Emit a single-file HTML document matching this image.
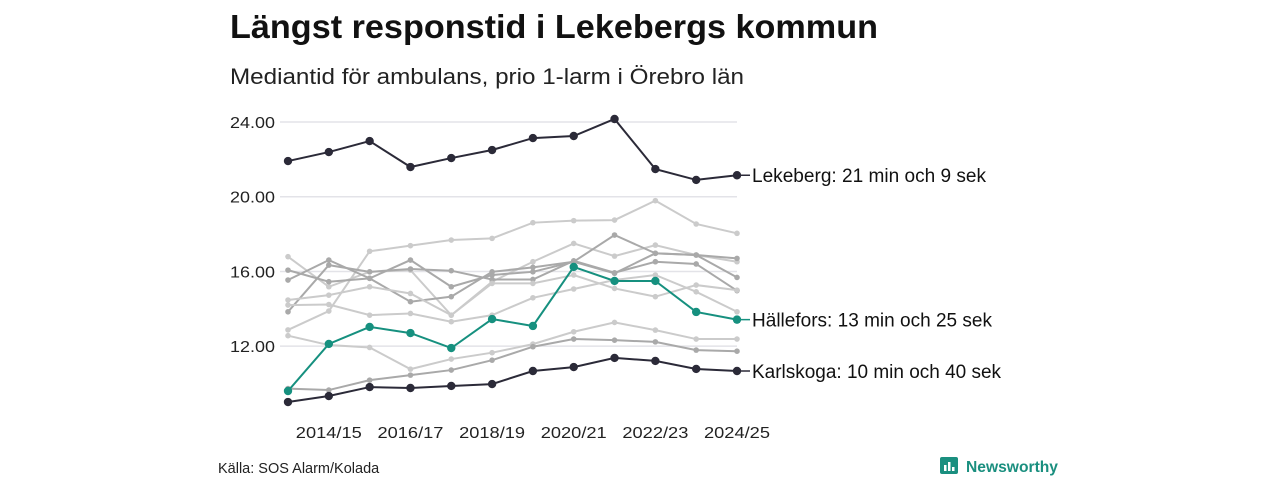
<!DOCTYPE html>
<html><head><meta charset="utf-8"><style>
body{margin:0;width:1280px;height:480px;background:#fff;font-family:"Liberation Sans",sans-serif;overflow:hidden}
</style></head><body>
<svg width="1280" height="480">
<text x="230" y="38" font-size="33" font-weight="bold" fill="#111" textLength="648" lengthAdjust="spacingAndGlyphs">Längst responstid i Lekebergs kommun</text>
<text x="230" y="84" font-size="22" fill="#222" textLength="514" lengthAdjust="spacingAndGlyphs">Mediantid för ambulans, prio 1-larm i Örebro län</text>
<g id="grid"></g><g id="gray"></g><g id="hl"></g><g id="xt"></g>
<text x="218" y="473" font-size="14.5" fill="#222">Källa: SOS Alarm/Kolada</text>
<g>
<rect x="940" y="457" width="18" height="17" rx="2" fill="#1a8f7f"/>
<rect x="944" y="465" width="2.5" height="6" fill="#fff"/><rect x="948" y="462" width="2.5" height="9" fill="#fff"/><rect x="952" y="467" width="2.5" height="4" fill="#fff"/>
<text x="966" y="472" font-size="16" font-weight="bold" fill="#1a8f7f" textLength="92" lengthAdjust="spacingAndGlyphs">Newsworthy</text></g>
</svg>
<script>
const categories=["2013/14","2014/15","2015/16","2016/17","2017/18","2018/19","2019/20","2020/21","2021/22","2022/23","2023/24","2024/25"];
const yTicks=[12,16,20,24];
const xTickLabels=["2014/15","2016/17","2018/19","2020/21","2022/23","2024/25"];
const lekeberg=[21.91,22.39,22.98,21.59,22.07,22.50,23.14,23.25,24.16,21.48,20.90,21.15];
const karlskoga=[9.01,9.33,9.81,9.76,9.87,9.97,10.67,10.88,11.37,11.21,10.78,10.67];
const hallefors=[9.60,12.12,13.03,12.70,11.90,13.45,13.08,16.24,15.49,15.49,13.83,13.42];
const g1=[12.87,13.88,17.08,17.38,17.68,17.77,18.61,18.72,18.75,19.79,18.54,18.04];
const g2=[16.79,15.18,15.98,16.07,13.66,15.45,16.52,17.50,16.82,17.41,16.88,16.52];
const g3=[16.07,15.45,15.63,16.61,15.18,15.81,15.98,16.52,15.90,16.97,16.88,16.70];
const g4=[15.54,16.61,15.63,14.38,14.65,15.98,16.22,16.52,17.95,16.97,16.88,15.68];
const g5=[13.84,16.34,15.98,16.13,16.04,15.57,15.57,16.57,15.93,16.52,16.40,14.97];
const g6=[14.47,14.73,15.18,14.82,13.66,15.36,15.36,15.81,15.09,14.65,15.27,15.00];
const g7=[14.20,14.23,13.66,13.75,13.31,13.66,14.59,15.06,15.54,15.81,14.91,13.84];
const g8=[12.56,12.06,11.93,10.77,11.31,11.65,12.11,12.77,13.27,12.86,12.38,12.38];
const g9=[9.73,9.65,10.18,10.45,10.72,11.25,11.97,12.38,12.32,12.23,11.79,11.73];
const grays=[[g1,"#cbcbcb"],[g2,"#cbcbcb"],[g3,"#a9a9a9"],[g4,"#a9a9a9"],[g5,"#a9a9a9"],[g6,"#cbcbcb"],[g7,"#cbcbcb"],[g8,"#cbcbcb"],[g9,"#a9a9a9"]];
const NS="http://www.w3.org/2000/svg";
const x=i=>288+i*(737-288)/11;
const y=v=>122+(24-v)*18.68;
function mk(t,a,p){const e=document.createElementNS(NS,t);for(const k in a)e.setAttribute(k,a[k]);p.appendChild(e);return e;}
const grid=document.getElementById('grid');
yTicks.forEach(t=>{
 const l=mk('line',{x1:280,x2:737,y1:y(t),y2:y(t),stroke:'#e3e3e8','stroke-width':1.5},grid);
 
 
 const tx=mk('text',{x:275,y:y(t)+6,'text-anchor':'end','font-size':16,fill:'#222',textLength:45,lengthAdjust:'spacingAndGlyphs'},grid);
 tx.textContent=t.toFixed(2);
 
 
});
const xt=document.getElementById('xt');
xTickLabels.forEach(lb=>{
 const i=categories.indexOf(lb);
 const tx=mk('text',{x:x(i),y:438,'text-anchor':'middle','font-size':16,fill:'#222',textLength:66,lengthAdjust:'spacingAndGlyphs'},xt);
 tx.textContent=lb;
 
 
});
function series(data,col,w,r,par,name){
 const p=mk('polyline',{points:data.map((v,i)=>x(i)+','+y(v)).join(' '),fill:'none',stroke:col,'stroke-width':w},par);
 
 
 data.forEach((v,i)=>{const c=mk('circle',{cx:x(i),cy:y(v),r:r,fill:col},par);
  
  });
}
const gg=document.getElementById('gray');
grays.forEach((s,k)=>series(s[0],s[1],2,2.8,gg,'municipality-'+(k+1)));
const hl=document.getElementById('hl');
[[lekeberg,'#2b2a38','lekeberg','Lekeberg: 21 min och 9 sek',234],[hallefors,'#16907f','hallefors','Hällefors: 13 min och 25 sek',240],[karlskoga,'#2b2a38','karlskoga','Karlskoga: 10 min och 40 sek',249]].forEach(s=>{
 series(s[0],s[1],2,4.2,hl,s[2]);
 const v=s[0][11];
 const l=mk('line',{x1:x(11),x2:750,y1:y(v),y2:y(v),stroke:s[1],'stroke-width':1.5},hl);
 
 
 const t=mk('text',{x:752,y:y(v)+7,'font-size':19,fill:'#111',textLength:s[4],lengthAdjust:'spacingAndGlyphs'},hl);
 t.textContent=s[3];
 
 
});
</script>
</body></html>
